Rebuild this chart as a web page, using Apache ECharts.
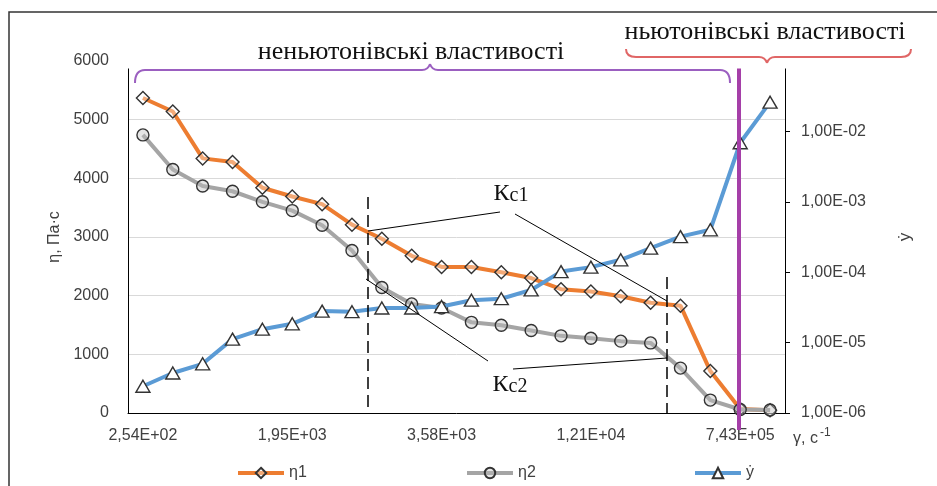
<!DOCTYPE html>
<html>
<head>
<meta charset="utf-8">
<script src="https://cdn.jsdelivr.net/npm/echarts@6/dist/echarts.min.js"></script>
<style>
html,body{margin:0;padding:0;background:#fff;}
#c{width:937px;height:486px;}
</style>
</head>
<body>
<div id="c"></div>
<script>
// ---- data ----
var categories = ['1','2','3','4','5','6','7','8','9','10','11','12','13','14','15','16','17','18','19','20','21','22'];
var tickLabels = ['2,54E+02','1,95E+03','3,58E+03','1,21E+04','7,43E+05'];
var eta1 = [5370, 5140, 4340, 4280, 3840, 3690, 3560, 3210, 2970, 2680, 2490, 2490, 2400, 2300, 2110, 2070, 1990, 1880, 1830, 715, 70, 45];
var eta2 = [4740, 4150, 3870, 3780, 3600, 3450, 3200, 2770, 2140, 1860, 1790, 1545, 1495, 1405, 1315, 1275, 1225, 1195, 765, 220, 60, 50];
var gammaDot = [2.4e-6, 3.7e-6, 5.0e-6, 1.12e-5, 1.55e-5, 1.85e-5, 2.8e-5, 2.75e-5, 3.1e-5, 3.1e-5, 3.25e-5, 4.0e-5, 4.2e-5, 5.6e-5, 1.02e-4, 1.18e-4, 1.5e-4, 2.2e-4, 3.2e-4, 4.0e-4, 6.9e-3, 2.6e-2];
var seriesNames = ['η1', 'η2', 'ẏ'];

var SANS = 'Liberation Sans';
var SERIF = 'Liberation Serif';
var FS = 16;
var chart = echarts.init(document.getElementById('c'), null, {renderer: 'canvas'});

var markerBorder = {borderColor: '#333', borderWidth: 1.4};

function seg(x1, y1, x2, y2, stroke, w) {
  return {type: 'line', z: 60, shape: {x1: x1, y1: y1, x2: x2, y2: y2}, style: {stroke: stroke, lineWidth: w}};
}
function curve(x1, y1, cx, cy, x2, y2, stroke, w) {
  return {type: 'bezierCurve', z: 60, shape: {x1: x1, y1: y1, x2: x2, y2: y2, cpx1: cx, cpy1: cy}, style: {stroke: stroke, lineWidth: w, fill: null}};
}
function bracket(xl, xr, yLine, yEnd, xt, yTip, stroke, w) {
  var r = 10;
  return [
    curve(xl, yEnd, xl, yLine, xl + r, yLine, stroke, w),
    seg(xl + r, yLine, xt - 8, yLine, stroke, w),
    curve(xt - 8, yLine, xt - 2, yLine, xt, yTip, stroke, w),
    curve(xt, yTip, xt + 2, yLine, xt + 8, yLine, stroke, w),
    seg(xt + 8, yLine, xr - r, yLine, stroke, w),
    curve(xr - r, yLine, xr, yLine, xr, yEnd, stroke, w)
  ];
}

var graphics = [
  {type: 'polyline', z: 100, shape: {points: [[9, 486], [9, 12], [937, 12]]}, style: {stroke: '#333', lineWidth: 1.5, fill: null}},
  {type: 'rect', z: 50, shape: {x: 113, y: 40, width: 690, height: 28.5}, style: {fill: '#fff'}},
  {type: 'text', z: 70, style: {text: 'неньютонівські властивості', x: 411, y: 52, align: 'center', verticalAlign: 'middle', font: '26px "Liberation Serif"', fill: '#111'}},
  {type: 'text', z: 70, style: {text: 'ньютонівські властивості', x: 765, y: 32, align: 'center', verticalAlign: 'middle', font: '26px "Liberation Serif"', fill: '#111'}},
  {type: 'line', z: 40, shape: {x1: 739, y1: 68, x2: 739, y2: 430}, style: {stroke: '#A53FA8', lineWidth: 4}},
  {type: 'line', z: 40, shape: {x1: 368, y1: 197, x2: 368, y2: 413}, style: {stroke: '#000', lineWidth: 1.5, lineDash: [12, 6]}},
  {type: 'line', z: 40, shape: {x1: 667, y1: 277, x2: 667, y2: 413}, style: {stroke: '#000', lineWidth: 1.5, lineDash: [12, 6]}},
  {type: 'line', z: 40, shape: {x1: 368, y1: 231, x2: 500, y2: 212}, style: {stroke: '#000', lineWidth: 1}},
  {type: 'line', z: 40, shape: {x1: 515, y1: 214, x2: 667, y2: 301}, style: {stroke: '#000', lineWidth: 1}},
  {type: 'line', z: 40, shape: {x1: 366, y1: 279, x2: 488, y2: 361}, style: {stroke: '#000', lineWidth: 1}},
  {type: 'line', z: 40, shape: {x1: 513, y1: 369, x2: 667, y2: 358}, style: {stroke: '#000', lineWidth: 1}},
  {type: 'text', z: 70, style: {text: '{k|К}{s|с1}', x: 511, y: 194, align: 'center', verticalAlign: 'middle',
    rich: {k: {fontFamily: SERIF, fontSize: 24, fill: '#111', verticalAlign: 'bottom'}, s: {fontFamily: SERIF, fontSize: 20, fill: '#111', verticalAlign: 'bottom'}}}},
  {type: 'text', z: 70, style: {text: '{k|К}{s|с2}', x: 510, y: 385, align: 'center', verticalAlign: 'middle',
    rich: {k: {fontFamily: SERIF, fontSize: 24, fill: '#111', verticalAlign: 'bottom'}, s: {fontFamily: SERIF, fontSize: 20, fill: '#111', verticalAlign: 'bottom'}}}}
];
graphics = graphics.concat(bracket(135, 730, 70, 83, 430, 64, '#9B5FC0', 2));
graphics = graphics.concat(bracket(626, 911, 57, 49, 767, 63, '#E06666', 2));

var legendText = {fontFamily: SANS, fontSize: FS, color: '#404040'};
function legendAt(name, left) {
  return {data: [name], left: left, top: 460, itemWidth: 46, itemHeight: 13, itemGap: 0,
    lineStyle: {width: 4}, textStyle: legendText};
}
var option = {
  backgroundColor: '#fff',
  animation: false,
  grid: {left: 128, right: 152, top: 61, bottom: 73, containLabel: false},
  legend: [legendAt(seriesNames[0], 231), legendAt(seriesNames[1], 460), legendAt(seriesNames[2], 688)],
  xAxis: {
    type: 'category',
    data: categories,
    boundaryGap: true,
    axisLine: {lineStyle: {color: '#000', width: 1}},
    axisTick: {show: false},
    axisLabel: {
      interval: 4, margin: 15, fontFamily: SANS, fontSize: FS, color: '#404040',
      formatter: function (v, i) { return tickLabels[Math.round(i / 5)] || ''; }
    },
    name: '{a|γ, с}{b|-1}',
    nameLocation: 'end',
    nameGap: 8,
    nameTextStyle: {
      padding: [48, 0, 0, 0],
      rich: {
        a: {fontFamily: SANS, fontSize: 16, color: '#404040', verticalAlign: 'bottom', lineHeight: 20},
        b: {fontFamily: SANS, fontSize: 12, color: '#404040', verticalAlign: 'top', lineHeight: 20, padding: [0, 0, 10, 2]}
      }
    }
  },
  yAxis: [
    {
      type: 'value', min: 0, max: 6000, interval: 1000,
      axisLine: {show: true, lineStyle: {color: '#000', width: 1}},
      axisTick: {show: false},
      axisLabel: {margin: 19, fontFamily: SANS, fontSize: FS, color: '#404040', formatter: function (v) { return String(v); }},
      splitLine: {show: true, lineStyle: {color: '#d9d9d9', width: 1}},
      name: 'η, Па·с', nameLocation: 'middle', nameGap: 64, nameRotate: 90,
      nameTextStyle: {fontFamily: SANS, fontSize: 16, color: '#404040'}
    },
    {
      type: 'log', logBase: 10, min: 1e-6, max: 1e-1, position: 'right',
      axisLine: {show: true, lineStyle: {color: '#000', width: 1}},
      axisTick: {show: true, inside: false, length: 5, lineStyle: {color: '#000'}},
      axisLabel: {
        margin: 16, fontFamily: SANS, fontSize: FS, color: '#404040',
        formatter: function (v) {
          var e = Math.round(Math.log(v) / Math.LN10);
          if (e >= -1) return '';
          return '1,00E-0' + (-e);
        }
      },
      splitLine: {show: false},
      name: 'ẏ', nameLocation: 'middle', nameGap: 112, nameRotate: 90,
      nameTextStyle: {fontFamily: SANS, fontSize: 17, color: '#404040'}
    }
  ],
  series: [
    {
      name: seriesNames[0], type: 'line', yAxisIndex: 0, data: eta1,
      symbol: 'diamond', symbolSize: 13, showAllSymbol: true,
      lineStyle: {color: '#ED7D31', width: 4},
      itemStyle: Object.assign({color: 'rgba(255,255,255,0.35)'}, markerBorder),
      z: 2
    },
    {
      name: seriesNames[1], type: 'line', yAxisIndex: 0, data: eta2,
      symbol: 'circle', symbolSize: 12, showAllSymbol: true,
      lineStyle: {color: '#A5A5A5', width: 4},
      itemStyle: Object.assign({color: 'rgba(190,190,190,0.4)'}, markerBorder),
      z: 3
    },
    {
      name: seriesNames[2], type: 'line', yAxisIndex: 1, data: gammaDot,
      symbol: 'triangle', symbolSize: [14, 12], showAllSymbol: true,
      lineStyle: {color: '#5B9BD5', width: 4},
      itemStyle: Object.assign({color: '#fff'}, markerBorder),
      z: 4
    }
  ],
  graphic: graphics
};
chart.setOption(option);
</script>
</body>
</html>
